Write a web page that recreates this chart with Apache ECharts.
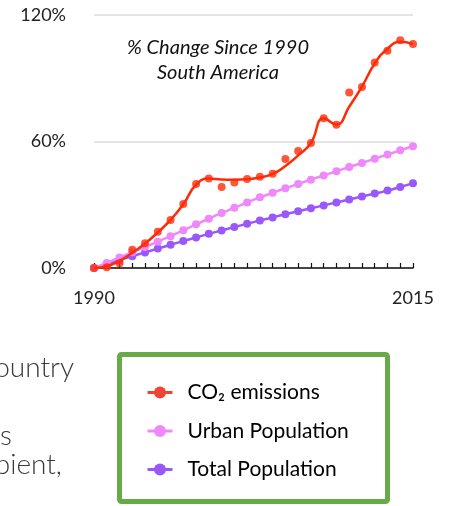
<!DOCTYPE html>
<html>
<head>
<meta charset="utf-8">
<script src="https://cdn.jsdelivr.net/npm/echarts@6/dist/echarts.min.js"></script>
<style>
html,body{margin:0;padding:0;background:#fff;}
#c{width:452px;height:506px;}
</style>
</head>
<body>
<div id="c"></div>
<script>
const years = [1990,1991,1992,1993,1994,1995,1996,1997,1998,1999,2000,2001,2002,2003,2004,2005,2006,2007,2008,2009,2010,2011,2012,2013,2014,2015];
const co2Points = [0,0.4,2.2,8.6,11.7,17.2,22.8,30.3,39.8,42.4,38.4,40.6,42.2,43.3,44.7,51.7,55.5,59.3,71,67.9,83.2,85.9,97.5,103,108,106.2];
const co2Trend = [0,0.8,3.4,7.2,11.6,16.9,22.8,30.2,39.5,42.4,42.0,41.9,42.1,42.9,44.6,48.4,53.4,59.3,71,68,76.5,86,97,104,107.3,106.2];
const urbanPop = [0,2.4,5.0,7.5,10.0,12.5,15.1,17.9,20.7,23.4,26.1,28.6,31.1,33.5,35.7,37.8,39.9,41.9,43.9,45.9,47.9,49.8,51.8,53.8,55.8,57.8];
const totalPop = [0,1.9,3.8,5.6,7.4,9.2,11.0,12.8,14.5,16.2,17.8,19.4,21.0,22.5,24.0,25.5,26.9,28.3,29.7,31.1,32.5,33.9,35.3,36.7,38.4,40.2];
const yTicks = [0,60,120];
const seriesNames = ['CO\u2082 emissions','Urban Population','Total Population'];

const RED = '#ff2a08', PINK = '#ee88fb', PURPLE = '#9a58fb';
const pair = arr => years.map((y,i)=>[y,arr[i]]);
const FONT = 'Lato';

const chart = echarts.init(document.getElementById('c'), null, {renderer:'canvas'});
chart.setOption({
  animation:false,
  backgroundColor:'#fff',
  grid:{left:94,right:39,top:15,bottom:238,containLabel:false},
  xAxis:{
    type:'value',min:years[0],max:years[years.length-1],interval:1,
    axisLine:{show:true,lineStyle:{color:'#111',width:1.5}},
    axisTick:{show:true,inside:true,length:5,lineStyle:{color:'#111',width:1.2}},
    splitLine:{show:false},
    axisLabel:{
      margin:21,fontFamily:FONT,fontSize:18,color:'#222',
      formatter:v=> (v===years[0]||v===years[years.length-1]) ? String(v) : ''
    }
  },
  yAxis:{
    type:'value',min:yTicks[0],max:yTicks[yTicks.length-1],interval:60,
    axisLine:{show:false},axisTick:{show:false},
    splitLine:{show:true,lineStyle:{color:'#dcdcdc',width:1.5}},
    axisLabel:{margin:28,fontFamily:FONT,fontSize:18,color:'#222',formatter:'{value}%'}
  },
  legend:{
    orient:'vertical',left:141,top:377,
    itemWidth:25,itemHeight:15,itemGap:17.5,
    textStyle:{fontFamily:FONT,fontSize:21,color:'#000',padding:[0,0,0,10]},
    data:[
      {name:seriesNames[0],itemStyle:{color:'#f04432'},lineStyle:{color:'#f04432',width:3}},
      {name:seriesNames[1],itemStyle:{color:PINK},lineStyle:{color:PINK,width:3}},
      {name:seriesNames[2],itemStyle:{color:PURPLE},lineStyle:{color:PURPLE,width:3}}
    ]
  },
  series:[
    {name:seriesNames[2],type:'line',data:pair(totalPop),smooth:0.3,symbol:'circle',symbolSize:8,showAllSymbol:true,
      itemStyle:{color:PURPLE},lineStyle:{color:PURPLE,width:2.5},z:2},
    {name:seriesNames[1],type:'line',data:pair(urbanPop),smooth:0.3,symbol:'circle',symbolSize:8,showAllSymbol:true,
      itemStyle:{color:PINK},lineStyle:{color:PINK,width:2.5},z:3},
    {name:seriesNames[0],type:'line',data:pair(co2Trend),smooth:0.5,symbol:'none',
      itemStyle:{color:RED},lineStyle:{color:RED,width:2.5},z:5},
    {name:'co2pts',type:'scatter',data:pair(co2Points),symbol:'circle',symbolSize:8,
      itemStyle:{color:RED},z:6}
  ],
  graphic:[
    {type:'text',x:218,y:48,style:{text:'% Change Since 1990',font:'italic 20px Lato',fill:'#111',align:'center',verticalAlign:'middle'}},
    {type:'text',x:218,y:73,style:{text:'South America',font:'italic 20px Lato',fill:'#111',align:'center',verticalAlign:'middle'}},
    {type:'text',x:74,y:367.5,style:{text:'country',font:'300 28px Lato',fill:'#3a3a3a',align:'right',verticalAlign:'middle'}},
    {type:'text',x:0,y:436,style:{text:'s',font:'300 28px Lato',fill:'#3a3a3a',align:'left',verticalAlign:'middle'}},
    {type:'text',x:62,y:465,style:{text:'recipient,',font:'300 28px Lato',fill:'#3a3a3a',align:'right',verticalAlign:'middle'}},
    {type:'rect',shape:{x:119.5,y:354.5,width:268,height:147,r:2},style:{fill:'none',stroke:'#68a948',lineWidth:5},z:1}
  ]
});
</script>
</body>
</html>
